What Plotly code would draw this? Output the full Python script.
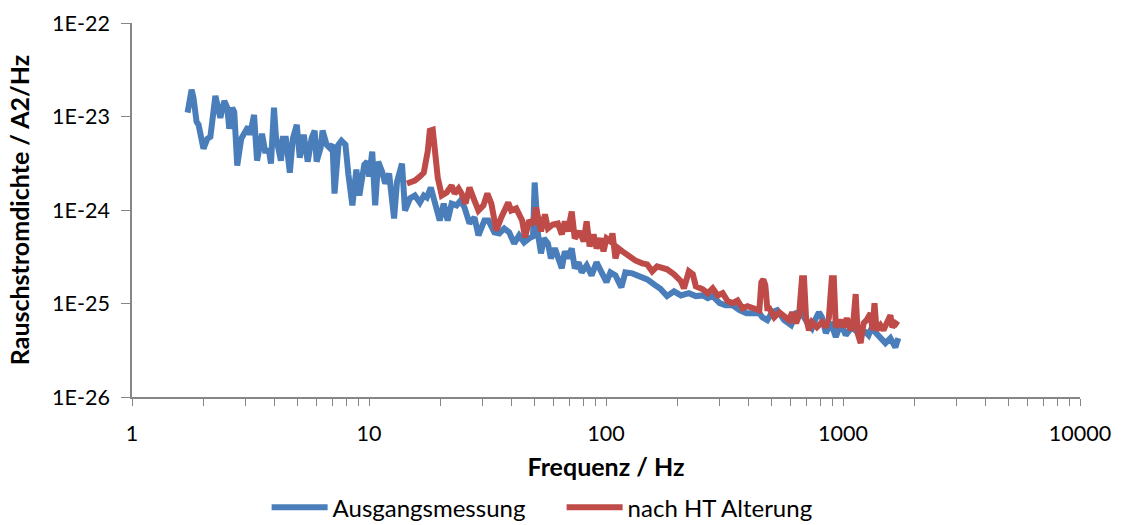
import plotly.graph_objects as go

# Ausgangsmessung (initial measurement): frequency in Hz, noise current density in A²/Hz
freq_initial = [
    1.716, 1.784, 1.818, 1.872, 1.909, 2.002, 2.081, 2.142, 2.248, 2.314,
    2.359, 2.452, 2.524, 2.573, 2.649, 2.701, 2.780, 2.889, 2.974, 3.090,
    3.150, 3.274, 3.370, 3.537, 3.641, 3.785, 3.858, 3.972, 4.049, 4.168,
    4.249, 4.332, 4.459, 4.634, 4.770, 4.958, 5.104, 5.304, 5.513, 5.730,
    5.898, 6.013, 6.249, 6.371, 6.621, 6.816, 7.016, 7.153, 7.434, 7.652,
    7.953, 8.187, 8.509, 8.844, 9.104, 9.553, 9.833, 10.02, 10.32, 10.62,
    10.93, 11.36, 11.70, 12.16, 12.52, 12.76, 13.13, 13.52, 13.78, 14.19,
    14.89, 15.62, 16.39, 17.03, 17.54, 18.23, 18.95, 19.88, 20.66, 21.47,
    22.32, 23.42, 24.34, 25.30, 26.55, 27.86, 28.96, 30.69, 31.89, 33.80,
    35.46, 37.21, 39.05, 40.98, 43.00, 45.13, 47.36, 49.22, 50.00, 51.66,
    53.17, 54.73, 56.88, 58.55, 60.85, 62.64, 65.10, 67.01, 68.98, 71.69,
    73.80, 76.70, 78.95, 82.85, 86.94, 91.24, 95.76, 100.5, 104.4, 109.6,
    116.1, 120.7, 129.1, 139.5, 149.2, 159.7, 169.2, 181.0, 193.6, 207.1,
    223.7, 239.4, 256.1, 268.8, 282.0, 301.7, 319.7, 342.0, 365.9, 391.4,
    418.8, 443.7, 456.7, 479.3, 502.9, 527.8, 564.6, 604.0, 633.9, 665.3,
    704.9, 739.7, 768.8, 791.4, 814.6, 846.7, 888.5, 932.4, 978.4, 1027,
    1088, 1164, 1245, 1282, 1319, 1385, 1453, 1510, 1585, 1663,
    1712,
]
psd_initial = [
    1.10e-23, 1.93e-23, 1.58e-23, 8.79e-24, 8.17e-24, 4.53e-24, 5.79e-24, 6.08e-24, 1.66e-23, 1.27e-23,
    9.70e-24, 1.47e-23, 1.24e-23, 7.40e-24, 1.24e-23, 1.12e-23, 2.98e-24, 5.79e-24, 6.55e-24, 7.78e-24,
    6.39e-24, 1.04e-23, 3.37e-24, 6.55e-24, 4.31e-24, 4.31e-24, 3.13e-24, 1.24e-23, 6.08e-24, 3.81e-24,
    3.37e-24, 5.79e-24, 5.79e-24, 2.51e-24, 5.79e-24, 8.17e-24, 3.63e-24, 6.39e-24, 3.29e-24, 5.93e-24,
    7.05e-24, 3.29e-24, 4.64e-24, 7.05e-24, 5.00e-24, 4.64e-24, 5.00e-24, 1.50e-24, 5.00e-24, 5.51e-24,
    5.00e-24, 2.39e-24, 1.12e-24, 2.70e-24, 1.43e-24, 3.06e-24, 3.29e-24, 2.28e-24, 4.21e-24, 1.12e-24,
    3.29e-24, 2.57e-24, 1.92e-24, 2.45e-24, 1.23e-24, 8.12e-25, 2.01e-24, 2.91e-24, 3.13e-24, 9.88e-25,
    1.33e-24, 1.43e-24, 1.20e-24, 1.43e-24, 1.36e-24, 1.74e-24, 1.17e-24, 7.73e-25, 1.17e-24, 7.73e-25,
    1.17e-24, 1.12e-24, 1.26e-24, 1.06e-24, 7.18e-25, 8.32e-25, 5.35e-25, 7.73e-25, 7.73e-25, 5.75e-25,
    5.61e-25, 6.35e-25, 5.75e-25, 4.39e-25, 5.35e-25, 4.50e-25, 4.97e-25, 5.22e-25, 1.97e-24, 5.48e-25,
    3.44e-25, 4.97e-25, 4.39e-25, 3.04e-25, 3.89e-25, 3.27e-25, 2.38e-25, 3.61e-25, 3.04e-25, 3.89e-25,
    2.38e-25, 2.75e-25, 2.15e-25, 2.56e-25, 2.00e-25, 2.75e-25, 2.15e-25, 1.69e-25, 2.15e-25, 2.00e-25,
    1.49e-25, 2.15e-25, 2.10e-25, 1.95e-25, 1.81e-25, 1.60e-25, 1.45e-25, 1.20e-25, 1.35e-25, 1.22e-25,
    1.29e-25, 1.20e-25, 1.22e-25, 1.14e-25, 1.20e-25, 1.01e-25, 9.58e-26, 9.58e-26, 8.47e-26, 7.87e-26,
    7.87e-26, 7.87e-26, 7.13e-26, 6.63e-26, 8.07e-26, 8.47e-26, 6.63e-26, 5.86e-26, 7.87e-26, 8.07e-26,
    6.31e-26, 5.45e-26, 6.96e-26, 8.07e-26, 7.13e-26, 4.82e-26, 6.31e-26, 4.37e-26, 6.16e-26, 4.59e-26,
    5.58e-26, 4.82e-26, 4.94e-26, 4.59e-26, 5.45e-26, 4.82e-26, 4.26e-26, 3.77e-26, 4.26e-26, 3.41e-26,
    4.26e-26,
]

# nach HT Alterung (after high-temperature ageing)
freq_aged = [
    14.46, 15.62, 16.39, 17.03, 17.71, 18.05, 18.58, 18.95, 19.50, 20.27,
    21.27, 22.32, 22.97, 23.88, 24.58, 25.54, 26.55, 27.86, 28.96, 30.39,
    31.58, 32.83, 34.45, 36.15, 38.68, 39.81, 41.78, 44.27, 45.57, 47.36,
    49.22, 50.67, 53.17, 55.26, 56.88, 59.69, 62.64, 65.10, 67.01, 68.98,
    71.69, 73.80, 77.45, 80.50, 82.85, 85.29, 88.64, 91.24, 94.85, 97.62,
    100.5, 104.4, 106.5, 109.6, 112.8, 117.3, 123.1, 132.9, 142.2, 149.2,
    156.6, 164.3, 181.0, 193.6, 207.1, 213.2, 223.7, 232.5, 239.4, 256.1,
    268.8, 282.0, 296.0, 310.5, 326.0, 342.0, 358.9, 376.6, 395.3, 422.9,
    443.7, 452.3, 461.1, 470.1, 479.3, 488.6, 512.8, 538.1, 564.6, 592.5,
    610.0, 633.9, 652.6, 671.6, 684.7, 698.1, 718.5, 739.7, 776.2, 814.6,
    846.7, 871.5, 897.1, 914.6, 932.4, 978.4, 1007, 1037, 1078, 1109,
    1131, 1153, 1187, 1222, 1257, 1307, 1332, 1358, 1385, 1439,
    1481, 1525, 1585, 1615, 1663, 1712,
]
psd_aged = [
    1.92e-24, 2.06e-24, 2.28e-24, 2.51e-24, 4.31e-24, 7.05e-24, 7.22e-24, 4.31e-24, 2.22e-24, 1.43e-24,
    1.54e-24, 1.83e-24, 1.50e-24, 1.70e-24, 1.50e-24, 1.17e-24, 1.74e-24, 1.26e-24, 9.88e-25, 1.12e-24,
    1.50e-24, 1.17e-24, 6.04e-25, 8.32e-25, 1.20e-24, 9.88e-25, 1.04e-24, 7.73e-25, 5.09e-25, 7.73e-25,
    7.00e-25, 1.06e-24, 5.90e-25, 8.95e-25, 6.35e-25, 7.00e-25, 7.18e-25, 5.48e-25, 7.54e-25, 5.90e-25,
    9.64e-25, 4.97e-25, 5.90e-25, 4.61e-25, 7.54e-25, 4.08e-25, 5.48e-25, 3.89e-25, 4.97e-25, 3.61e-25,
    4.97e-25, 4.61e-25, 5.61e-25, 3.04e-25, 3.89e-25, 3.61e-25, 3.27e-25, 2.89e-25, 2.69e-25, 2.62e-25,
    2.21e-25, 2.50e-25, 2.32e-25, 2.05e-25, 1.73e-25, 1.45e-25, 2.21e-25, 2.05e-25, 1.53e-25, 1.42e-25,
    1.29e-25, 1.45e-25, 1.22e-25, 1.29e-25, 1.06e-25, 1.01e-25, 1.08e-25, 8.90e-26, 9.35e-26, 8.90e-26,
    8.47e-26, 1.69e-25, 1.81e-25, 1.57e-25, 8.90e-26, 8.90e-26, 7.13e-26, 8.07e-26, 7.13e-26, 6.63e-26,
    8.07e-26, 6.16e-26, 7.49e-26, 1.86e-25, 1.86e-25, 7.13e-26, 5.18e-26, 6.31e-26, 5.58e-26, 6.31e-26,
    5.58e-26, 6.96e-26, 1.86e-25, 1.86e-25, 5.58e-26, 6.63e-26, 5.58e-26, 6.96e-26, 5.18e-26, 6.96e-26,
    1.26e-25, 4.82e-26, 3.77e-26, 6.16e-26, 6.63e-26, 7.87e-26, 5.18e-26, 1.01e-25, 5.18e-26, 5.86e-26,
    5.18e-26, 6.16e-26, 7.49e-26, 5.58e-26, 6.16e-26, 5.86e-26,
]

series_names = ["Ausgangsmessung", "nach HT Alterung"]
series_colors = ["#4A7EBB", "#BE4B48"]

x_decades = [1, 10, 100, 1000, 10000]
y_decades = [1e-26, 1e-25, 1e-24, 1e-23, 1e-22]
y_labels = ["1E-26", "1E-25", "1E-24", "1E-23", "1E-22"]

# major + minor tick positions on the log frequency axis (labels only at decades)
x_tickvals = []
x_ticktext = []
for d in x_decades[:-1]:
    for m in range(1, 10):
        x_tickvals.append(d * m)
        x_ticktext.append(str(d) if m == 1 else "")
x_tickvals.append(x_decades[-1])
x_ticktext.append(str(x_decades[-1]))

FONT = "Lato, Carlito, Calibri, sans-serif"
AXIS_COLOR = "#868686"

fig = go.Figure()
for f, v, name, color in [
    (freq_initial, psd_initial, series_names[0], series_colors[0]),
    (freq_aged, psd_aged, series_names[1], series_colors[1]),
]:
    fig.add_trace(go.Scatter(
        x=f, y=v, mode="lines", name=name,
        line=dict(color=color, width=6, shape="linear"),
    ))

fig.update_layout(
    width=1127, height=525,
    margin=dict(l=132, r=47, t=23, b=128, autoexpand=False),
    paper_bgcolor="white", plot_bgcolor="white",
    font=dict(family=FONT, size=21.5, color="#000000"),
    showlegend=True,
    legend=dict(
        orientation="h", x=0.142, xanchor="left", y=-0.296, yanchor="middle",
        font=dict(family=FONT, size=24, color="#000000"),
        itemwidth=56, entrywidth=224, traceorder="normal",
    ),
)

fig.update_xaxes(
    type="log", range=[0, 4],
    tickmode="array", tickvals=x_tickvals, ticktext=x_ticktext,
    ticks="outside", ticklen=7, tickwidth=1.3, tickcolor=AXIS_COLOR,
    showline=True, linecolor=AXIS_COLOR, linewidth=1.5,
    showgrid=False, zeroline=False,
    ticklabelstandoff=9,
    tickfont=dict(family=FONT, size=21.5, color="#000000"),
    title=dict(text="<b>Frequenz / Hz</b>", font=dict(family=FONT, size=25), standoff=14),
)
fig.update_yaxes(
    type="log", range=[-26, -22],
    tickmode="array", tickvals=y_decades, ticktext=y_labels,
    ticks="outside", ticklen=9, tickwidth=1.3, tickcolor=AXIS_COLOR,
    showline=True, linecolor=AXIS_COLOR, linewidth=1.5,
    showgrid=False, zeroline=False,
    ticklabelstandoff=7,
    tickfont=dict(family=FONT, size=21.5, color="#000000"),
    title=dict(text="<b>Rauschstromdichte / A2/Hz</b>", font=dict(family=FONT, size=25), standoff=15),
)

fig.write_html("out.html")
